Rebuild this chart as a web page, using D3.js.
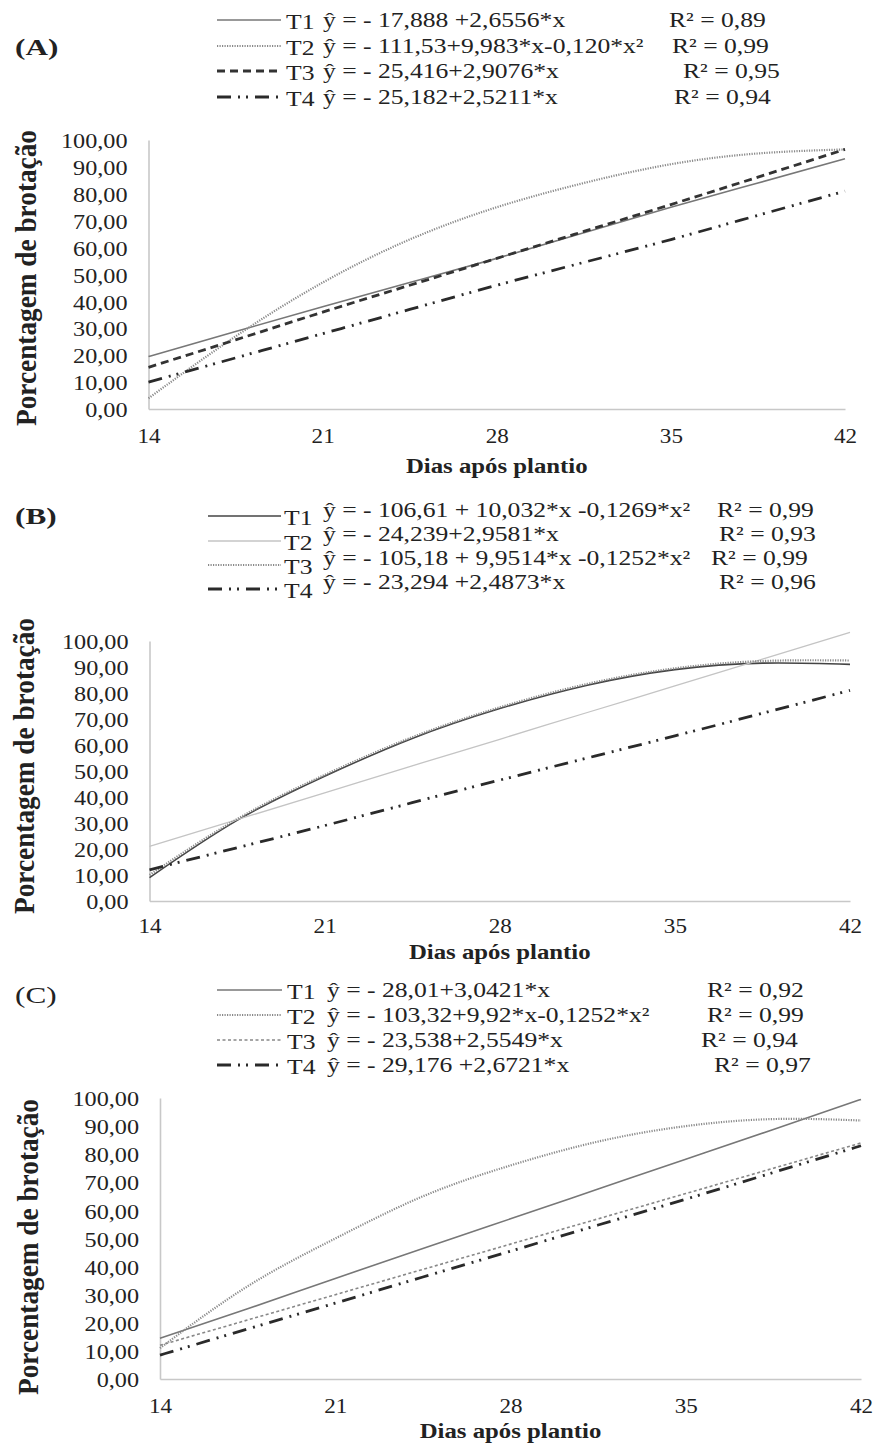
<!DOCTYPE html>
<html><head><meta charset="utf-8">
<script src="https://cdn.jsdelivr.net/npm/d3@7"></script>
<style>
body{margin:0;background:#fff;}
svg{display:block;}
text{font-family:"Liberation Serif","Times New Roman",serif;fill:#222;}
</style></head>
<body>
<script>
// ---- data ----
const days = [14, 17.5, 21, 24.5, 28, 31.5, 35, 38.5, 42];
const xTicks = [14, 21, 28, 35, 42];
const yTicks = [0, 10, 20, 30, 40, 50, 60, 70, 80, 90, 100];
const seriesNames = ["T1", "T2", "T3", "T4"];

const a_T1 = [19.5, 28.8, 38, 47, 56, 65.5, 75, 84, 93];
const a_T2 = [4, 27, 47, 63, 75, 84, 91, 95, 96.5];
const a_T3 = [15.5, 25.7, 36, 46, 56, 66, 76, 86.2, 96.5];
const a_T4 = [10, 19, 28, 37, 46, 54.5, 63, 72, 81];

const b_T1 = [9, 31, 48, 62.5, 74, 83, 89, 91.5, 91];
const b_T2 = [21, 31.3, 41.6, 52, 62.2, 72.5, 82.7, 93, 103.3];
const b_T3 = [10, 31.5, 48.5, 63, 74.5, 83.5, 89.5, 92.3, 92.5];
const b_T4 = [12, 20.5, 29, 37.8, 46.5, 55, 63.5, 72.2, 81];

const c_T1 = [14.5, 25, 35.8, 46.4, 57, 67.6, 78.2, 88.8, 99.5];
const c_T2 = [11, 33, 50, 65, 76, 84.5, 90, 92.5, 92];
const c_T3 = [12, 21, 30, 39, 48, 57, 66, 75, 84];
const c_T4 = [8.5, 17.8, 27, 36.3, 45.5, 54.8, 64, 73.5, 83];

const a_eq = ["ŷ = - 17,888 +2,6556*x", "ŷ = - 111,53+9,983*x-0,120*x²", "ŷ = - 25,416+2,9076*x", "ŷ = - 25,182+2,5211*x"];
const a_r2 = ["R² = 0,89", "R² = 0,99", "R² = 0,95", "R² = 0,94"];
const b_eq = ["ŷ = - 106,61 + 10,032*x -0,1269*x²", "ŷ = - 24,239+2,9581*x", "ŷ = - 105,18 + 9,9514*x -0,1252*x²", "ŷ = - 23,294 +2,4873*x"];
const b_r2 = ["R² = 0,99", "R² = 0,93", "R² = 0,99", "R² = 0,96"];
const c_eq = ["ŷ = - 28,01+3,0421*x", "ŷ = - 103,32+9,92*x-0,1252*x²", "ŷ = - 23,538+2,5549*x", "ŷ = - 29,176 +2,6721*x"];
const c_r2 = ["R² = 0,92", "R² = 0,99", "R² = 0,94", "R² = 0,97"];

const xTitle = "Dias após plantio";
const yTitle = "Porcentagem de brotação";

// ---- styles ----
const S = {
  solid:   {stroke:"#777", width:1.6, dash:null},
  solidDk: {stroke:"#444", width:1.6, dash:null},
  light:   {stroke:"#c4c4c4", width:1.3, dash:null},
  dotted:  {stroke:"#8a8a8a", width:2.2, dash:"1.2,1.3"},
  dashed:  {stroke:"#333", width:2.8, dash:"8,5"},
  shortd:  {stroke:"#888", width:1.6, dash:"3,2.5"},
  dashdot: {stroke:"#2a2a2a", width:2.8, dash:"14,7,2,6,2,7"}
};
const LEG_FS = 21, LEG_SX = 1.22;

const panels = [
  {label:"(A)", labelBold:true, series:[a_T1,a_T2,a_T3,a_T4], styles:[S.solid,S.dotted,S.dashed,S.dashdot], eq:a_eq, r2:a_r2,
   left:148.5, right:845, top:140, bottom:409, xLabY:436, titleY:466, yTitleX:26, yTitleCY:278,
   labX:15, labY:47, legRows:[20,46,71,97], sampX:[217,281], tX:286, eqX:323, r2X:[669,672,683,674], tDy:[0,0,0,0]},
  {label:"(B)", labelBold:true, series:[b_T1,b_T2,b_T3,b_T4], styles:[S.solidDk,S.light,S.dotted,S.dashdot], eq:b_eq, r2:b_r2,
   left:149.5, right:850, top:641, bottom:901, xLabY:926, titleY:952, yTitleX:24, yTitleCY:766,
   labX:15, labY:516, legRows:[510,534,558,582], sampX:[208,281], tX:284, eqX:323, r2X:[717,719,711,719], tDy:[6,7,7,7]},
  {label:"(C)", labelBold:false, series:[c_T1,c_T2,c_T3,c_T4], styles:[S.solid,S.dotted,S.shortd,S.dashdot], eq:c_eq, r2:c_r2,
   left:160, right:861, top:1098, bottom:1379, xLabY:1406, titleY:1431, yTitleX:28, yTitleCY:1247,
   labX:15, labY:995, legRows:[990,1015,1040,1065], sampX:[217,282], tX:287, eqX:327, r2X:[707,707,701,714], tDy:[0,0,0,0]}
];

const svg = d3.select("body").append("svg").attr("width",874).attr("height",1445);

function applyStyle(sel, st){
  sel.attr("fill","none").attr("stroke",st.stroke).attr("stroke-width",st.width);
  if(st.dash) sel.attr("stroke-dasharray",st.dash);
}
function stext(g, x, y, txt, fs, sx, opts={}){
  const t = g.append("text").attr("transform",`translate(${x},${y}) scale(${sx},1)`)
    .attr("dominant-baseline","central").attr("font-size",fs).text(txt);
  if(opts.bold) t.attr("font-weight","bold");
  if(opts.anchor) t.attr("text-anchor",opts.anchor);
  return t;
}

panels.forEach(p=>{
  const g = svg.append("g");
  const x = d3.scaleLinear().domain([14,42]).range([p.left,p.right]);
  const y = d3.scaleLinear().domain([0,100]).range([p.bottom,p.top]);

  // y axis
  const ax = d3.axisLeft(y).tickValues(yTicks).tickSize(0).tickPadding(0).tickFormat(d=>d3.format(".2f")(d).replace(".",","));
  const yg = g.append("g").attr("transform",`translate(${p.left},0)`).call(ax);
  yg.select(".domain").attr("stroke","#c8c8c8").attr("stroke-width",1.6);
  yg.selectAll("text").attr("x",0).attr("dy",null).attr("dominant-baseline","central")
    .attr("transform","translate(-21,0) scale(1.1,1)")
    .attr("font-size",22).attr("fill","#333").attr("font-family","Liberation Serif");

  // x axis
  const bx = d3.axisBottom(x).tickValues(xTicks).tickSize(0).tickPadding(0).tickFormat(d=>d);
  const xg = g.append("g").attr("transform",`translate(0,${p.bottom})`).call(bx);
  xg.select(".domain").attr("stroke","#c8c8c8").attr("stroke-width",1.6);
  xg.selectAll("text").attr("y",0).attr("dy",null).attr("dominant-baseline","central")
    .attr("transform",`translate(0,${p.xLabY-p.bottom}) scale(1.05,1)`)
    .attr("font-size",22).attr("fill","#333").attr("font-family","Liberation Serif");

  // titles
  stext(g,(p.left+p.right)/2,p.titleY,xTitle,21,1.18,{bold:true,anchor:"middle"});
  g.append("text").attr("transform",`translate(${p.yTitleX},${p.yTitleCY}) rotate(-90) scale(1.05,1.15)`).attr("text-anchor","middle")
    .attr("dominant-baseline","central").attr("font-weight","bold").attr("font-size",26).text(yTitle);

  // lines
  const line = d3.line().x((d,i)=>x(days[i])).y(d=>y(d)).curve(d3.curveNatural);
  p.series.forEach((vals,k)=>{
    g.append("path").datum(vals).attr("d",line).call(applyStyle,p.styles[k]);
  });

  // panel label
  stext(g,p.labX,p.labY,p.label,24,1.3,{bold:p.labelBold});

  // legend
  seriesNames.forEach((nm,k)=>{
    const ry = p.legRows[k];
    g.append("line").attr("x1",p.sampX[0]).attr("x2",p.sampX[1]).attr("y1",ry+p.tDy[k]).attr("y2",ry+p.tDy[k]).call(applyStyle,p.styles[k]);
    stext(g,p.tX,ry+p.tDy[k]+2,nm,LEG_FS,LEG_SX);
    stext(g,p.eqX,ry,p.eq[k],LEG_FS,LEG_SX);
    stext(g,p.r2X[k],ry,p.r2[k],LEG_FS,LEG_SX);
  });
});
</script>
</body></html>
